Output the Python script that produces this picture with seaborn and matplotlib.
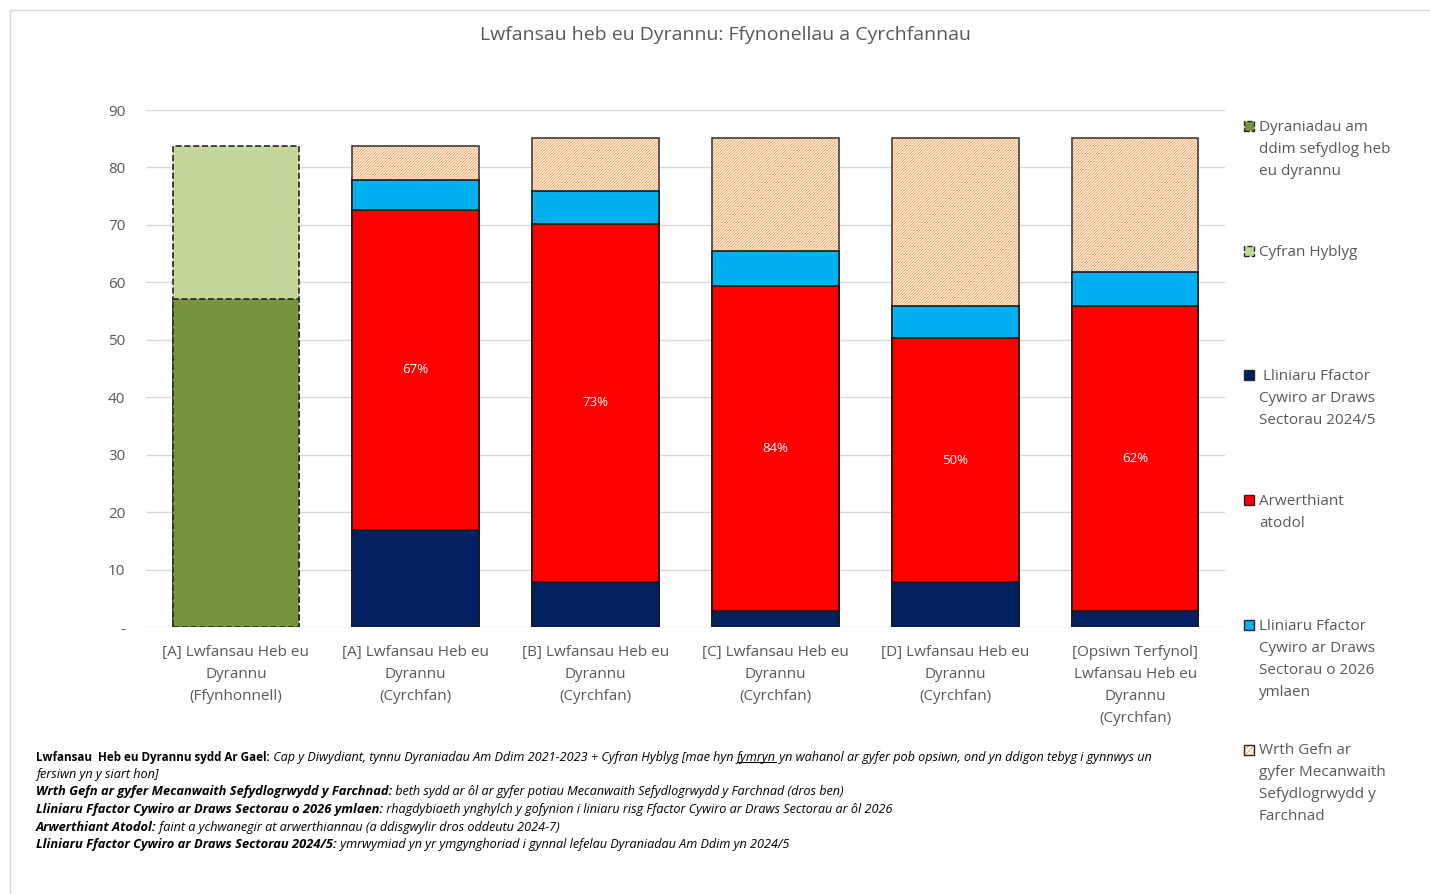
import pandas as pd
import matplotlib
matplotlib.use("Agg")
import matplotlib.pyplot as plt
from matplotlib.patches import Rectangle
from matplotlib.lines import Line2D
import seaborn as sns

# categorïau'r echel x
categories = [
    "[A] Lwfansau Heb eu\nDyrannu\n(Ffynhonnell)",
    "[A] Lwfansau Heb eu\nDyrannu\n(Cyrchfan)",
    "[B] Lwfansau Heb eu\nDyrannu\n(Cyrchfan)",
    "[C] Lwfansau Heb eu\nDyrannu\n(Cyrchfan)",
    "[D] Lwfansau Heb eu\nDyrannu\n(Cyrchfan)",
    "[Opsiwn Terfynol]\nLwfansau Heb eu\nDyrannu\n(Cyrchfan)",
]
source_cats = categories[:1]
dest_cats = categories[1:]

# ffynhonnell
fixed_free = [57.1]      # Dyraniadau am ddim sefydlog heb eu dyrannu
flex_share = [26.6]      # Cyfran Hyblyg

# cyrchfannau
sectoral_2024 = [16.9, 7.8, 2.8, 7.8, 2.8]     # Lliniaru ... 2024/5
extra_auction = [55.7, 62.4, 56.6, 42.5, 53.1]  # Arwerthiant atodol
sectoral_2026 = [5.2, 5.7, 6.1, 5.6, 5.9]      # Lliniaru ... o 2026 ymlaen
msr_reserve = [5.9, 9.2, 19.6, 29.2, 23.3]     # Wrth Gefn MSR
red_labels = ["67%", "73%", "84%", "50%", "62%"]

legend_labels = [
    "Dyraniadau am\nddim sefydlog heb\neu dyrannu",
    "Cyfran Hyblyg",
    " Lliniaru Ffactor\nCywiro ar Draws\nSectorau 2024/5",
    "Arwerthiant\natodol",
    "Lliniaru Ffactor\nCywiro ar Draws\nSectorau o 2026\nymlaen",
    "Wrth Gefn ar\ngyfer Mecanwaith\nSefydlogrwydd y\nFarchnad",
]

notes = [
    ("Lwfansau  Heb eu Dyrannu sydd Ar Gael:",
     " Cap y Diwydiant, tynnu Dyraniadau Am Ddim 2021-2023 + Cyfran Hyblyg [mae hyn ",
     "fymryn",
     " yn wahanol ar gyfer pob opsiwn, ond yn ddigon tebyg i gynnwys un"),
    ("", "fersiwn yn y siart hon]", "", ""),
    ("Wrth Gefn ar gyfer Mecanwaith Sefydlogrwydd y Farchnad:",
     " beth sydd ar ôl ar gyfer potiau Mecanwaith Sefydlogrwydd y Farchnad (dros ben)", "", ""),
    ("Lliniaru Ffactor Cywiro ar Draws Sectorau o 2026 ymlaen:",
     " rhagdybiaeth ynghylch y gofynion i liniaru risg Ffactor Cywiro ar Draws Sectorau ar ôl 2026", "", ""),
    ("Arwerthiant Atodol:",
     " faint a ychwanegir at arwerthiannau (a ddisgwylir dros oddeutu 2024-7)", "", ""),
    ("Lliniaru Ffactor Cywiro ar Draws Sectorau 2024/5:",
     " ymrwymiad yn yr ymgynghoriad i gynnal lefelau Dyraniadau Am Ddim yn 2024/5", "", ""),
]

C_DKGREEN = "#77933C"
C_LTGREEN = "#C4D79B"
C_NAVY = "#002060"
C_RED = "#FF0000"
C_BLUE = "#00B0F0"
C_HATCH = "#F7A15A"
GREY = "#595959"
HATCH = "////////////"

sns.set_theme(style="white")
plt.rcParams["font.family"] = ["Open Sans", "DejaVu Sans"]
plt.rcParams["hatch.linewidth"] = 0.7

W, H = 1430, 894
fig = plt.figure(figsize=(W / 100, H / 100), dpi=100)
ax = fig.add_axes([146 / W, 1 - 627 / H, (1225 - 146) / W, (627 - 110) / H])

src = pd.DataFrame({"cat": source_cats, "fixed": fixed_free, "flex": flex_share})
src["top"] = src["fixed"] + src["flex"]

dst = pd.DataFrame({"cat": dest_cats, "s24": sectoral_2024, "auc": extra_auction,
                    "s26": sectoral_2026, "msr": msr_reserve})
dst["c1"] = dst["s24"]
dst["c2"] = dst["c1"] + dst["auc"]
dst["c3"] = dst["c2"] + dst["s26"]
dst["c4"] = dst["c3"] + dst["msr"]

bw = 0.705
common = dict(order=categories, width=bw, saturation=1, errorbar=None, ax=ax)

# bar ffynhonnell (llinell doredig)
sns.barplot(data=src, x="cat", y="top", color=C_LTGREEN, edgecolor="#262626",
            linewidth=1.2, linestyle="--", **common)
sns.barplot(data=src, x="cat", y="fixed", color=C_DKGREEN, edgecolor="#262626",
            linewidth=1.2, linestyle="--", **common)

# barrau cyrchfan - wedi'u pentyrru drwy orgyffwrdd
sns.barplot(data=dst, x="cat", y="c4", color="white", edgecolor=C_HATCH,
            linewidth=0, hatch=HATCH, **common)
sns.barplot(data=dst, x="cat", y="c4", color="white", fill=False, edgecolor="#404040",
            linewidth=1.2, **common)
sns.barplot(data=dst, x="cat", y="c3", color=C_BLUE, edgecolor="#1a1a1a",
            linewidth=1.2, **common)
sns.barplot(data=dst, x="cat", y="c2", color=C_RED, edgecolor="#1a1a1a",
            linewidth=1.2, **common)
sns.barplot(data=dst, x="cat", y="c1", color=C_NAVY, edgecolor="#1a1a1a",
            linewidth=1.2, **common)

for i, row in dst.iterrows():
    ax.text(i + 1, row["s24"] + row["auc"] / 2, red_labels[i], color="white",
            ha="center", va="center", fontsize=9.5)

ax.set_ylim(0, 90)
ax.set_xlim(-0.5, 5.5)
ax.set_yticks(range(0, 91, 10))
ax.set_yticklabels(["-"] + [str(v) for v in range(10, 91, 10)])
ax.set_xlabel("")
ax.set_ylabel("")
ax.set_axisbelow(True)
ax.grid(axis="y", color="#D9D9D9", linewidth=1)
ax.grid(axis="x", visible=False)
for s in ax.spines.values():
    s.set_visible(False)
ax.tick_params(axis="y", length=0, pad=15, labelsize=11, labelcolor=GREY)
ax.tick_params(axis="x", length=0, pad=13, labelsize=11, labelcolor=GREY)
for lab in ax.get_xticklabels():
    lab.set_linespacing(1.62)

fig.text(0.507, 1 - 35 / H, "Lwfansau heb eu Dyrannu: Ffynonellau a Cyrchfannau",
         ha="center", va="center", fontsize=14, color=GREY)

# ffin y siart
fig.patches.append(Rectangle((10 / W, -0.1), 2, 1.1 - 10 / H, transform=fig.transFigure,
                             fill=False, edgecolor="#D9D9D9", linewidth=1))

# allwedd
handles = [
    dict(facecolor=C_DKGREEN, edgecolor="#262626", linestyle="--"),
    dict(facecolor=C_LTGREEN, edgecolor="#262626", linestyle="--"),
    dict(facecolor=C_NAVY, edgecolor="#262626", linestyle="-"),
    dict(facecolor=C_RED, edgecolor="#262626", linestyle="-"),
    dict(facecolor=C_BLUE, edgecolor="#262626", linestyle="-"),
    dict(facecolor="white", edgecolor="#262626", linestyle="-"),
]
for i, (lab, st) in enumerate(zip(legend_labels, handles)):
    base = 131 + 124.7 * i
    if i == 5:
        fig.patches.append(Rectangle((1244 / W, 1 - base / H), 10 / W, 10 / H,
                                     transform=fig.transFigure, facecolor="white",
                                     edgecolor=C_HATCH, linewidth=0, hatch="//////"))
        st = dict(facecolor="none", edgecolor="#262626", linestyle="-")
    fig.patches.append(Rectangle((1244 / W, 1 - base / H), 10 / W, 10 / H,
                                 transform=fig.transFigure, linewidth=1.0, **st))
    for k, line in enumerate(lab.split("\n")):
        fig.text(1259 / W, 1 - (base + 22 * k) / H, line, ha="left", va="baseline",
                 fontsize=11, color=GREY)

# nodiadau
note_base = [761, 778, 795, 813, 831, 848]
under = None
for i, (head, body, ul, tail) in enumerate(notes):
    y = 1 - note_base[i] / H
    if head:
        hstyle = "normal" if i == 0 else "italic"
        hsize = 8.4 if i == 0 else 9.3
        t = fig.text(36 / W, y, head, ha="left", va="baseline", fontsize=hsize,
                     fontweight="bold", fontstyle=hstyle, color="black")
    else:
        t = fig.text(36 / W, y, body, ha="left", va="baseline", fontsize=9.05,
                     fontstyle="italic", color="black")
        continue
    for j, part in enumerate([body, ul, tail]):
        if not part:
            continue
        t = ax.annotate(part, xy=(1, 0), xycoords=t, ha="left", va="bottom",
                        fontsize=9.05, fontstyle="italic", color="black",
                        annotation_clip=False)
        if j == 1:
            under = t

fig.canvas.draw()
if under is not None:
    bb = under.get_window_extent()
    fig.add_artist(Line2D([bb.x0 / W, bb.x1 / W], [(bb.y0 + 2) / H, (bb.y0 + 2) / H],
                          transform=fig.transFigure, color="black", linewidth=0.8))

fig.savefig("out.png", dpi=100)
